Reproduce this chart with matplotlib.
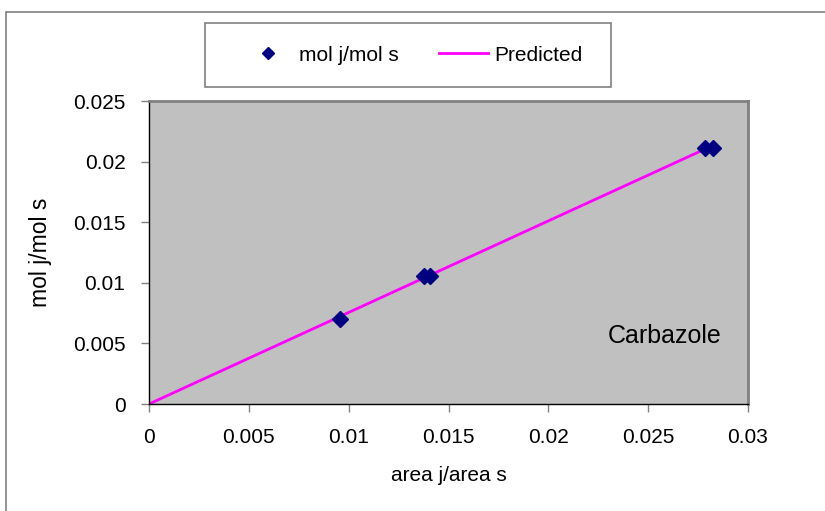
import matplotlib
matplotlib.use("Agg")
import matplotlib.pyplot as plt
from matplotlib.patches import Rectangle
from matplotlib.lines import Line2D

plt.rcParams['font.family'] = ['Liberation Sans', 'DejaVu Sans']

area_ratio = [0.00957, 0.01375, 0.01405, 0.02784, 0.02824]
mol_ratio = [0.00701, 0.01056, 0.01056, 0.02110, 0.02110]
pred_x = [0.0, 0.0280]
pred_y = [0.0, 0.02115]
xticks = [0, 0.005, 0.01, 0.015, 0.02, 0.025, 0.03]
xticklabels = ['0', '0.005', '0.01', '0.015', '0.02', '0.025', '0.03']
yticks = [0, 0.005, 0.01, 0.015, 0.02, 0.025]
yticklabels = ['0', '0.005', '0.01', '0.015', '0.02', '0.025']

W, H = 825, 511
fig = plt.figure(figsize=(W/100, H/100), dpi=100)
fig.patch.set_facecolor('white')

# outer chart border
fig.add_artist(Rectangle((6/W, -0.05), 1.2, 1 - 12/H + 0.05, transform=fig.transFigure,
                         fill=False, edgecolor='#808080', linewidth=1.2))

ax = fig.add_axes([149/W, 1 - 404/H, (748-149)/W, (404-101)/H])
ax.set_facecolor('#C0C0C0')
ax.plot(pred_x, pred_y, color='#FF00FF', linewidth=2, zorder=2)
ax.plot(area_ratio, mol_ratio, linestyle='none', marker='D', markersize=8,
        color='#000080', markeredgecolor='#000080', zorder=3)
ax.set_xlim(0, 0.03)
ax.set_ylim(0, 0.025)
ax.set_xticks(xticks)
ax.set_xticklabels(xticklabels)
ax.set_yticks(yticks)
ax.set_yticklabels(yticklabels)
ax.tick_params(direction='out', length=6, width=1, color='#808080',
               labelsize=15, pad=11)
for s in ['left', 'bottom']:
    ax.spines[s].set_color('#000000')
    ax.spines[s].set_linewidth(1)
for s in ['top', 'right']:
    ax.spines[s].set_color('#808080')
    ax.spines[s].set_linewidth(2)
ax.set_xlabel('area j/area s', fontsize=15, labelpad=14)
ax.set_ylabel('mol j/mol s', fontsize=16.5, labelpad=15)
ax.text(0.02584, 0.00561, 'Carbazole', fontsize=18, ha='center', va='center')

# legend frame
fig.add_artist(Rectangle((205/W, 1 - 87/H), (611-205)/W, 64/H, transform=fig.transFigure,
                         facecolor='white', edgecolor='#808080', linewidth=1.2, zorder=5))
handles = [Line2D([], [], linestyle='none', marker='D', markersize=6, color='#000080'),
           Line2D([], [], color='#FF00FF', linewidth=2)]
leg = fig.legend(handles, ['mol j/mol s', 'Predicted'], loc='center',
                 bbox_to_anchor=(413/W, 1 - 55/H), ncol=2, frameon=False,
                 fontsize=15, borderpad=0.0, borderaxespad=0.0,
                 columnspacing=1.92, handlelength=2.35, handletextpad=0.29)
leg.set_zorder(6)

fig.savefig('out.png', dpi=100)
